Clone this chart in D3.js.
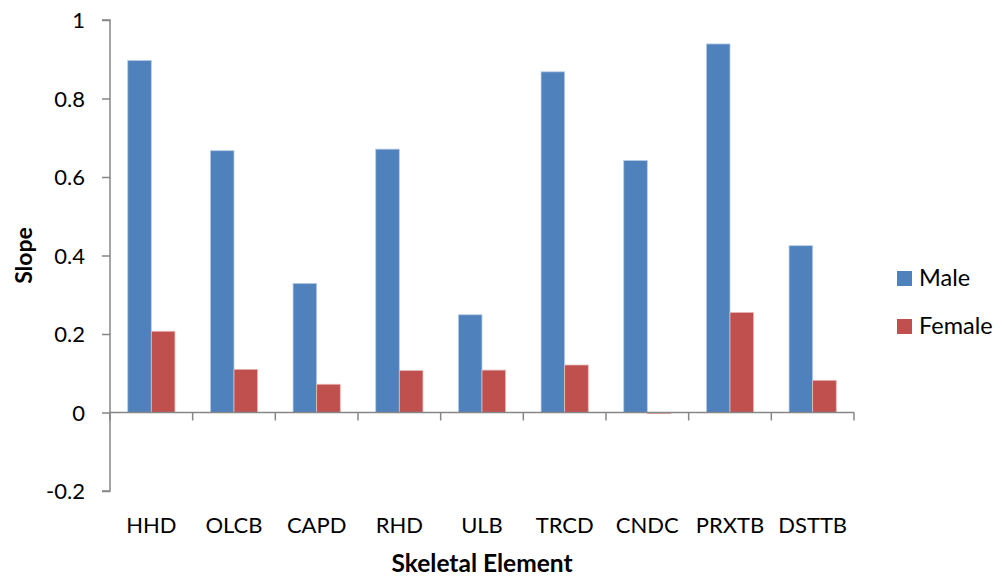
<!DOCTYPE html>
<html>
<head>
<meta charset="utf-8">
<script src="https://cdn.jsdelivr.net/npm/d3@7"></script>
<style>
  html, body { margin: 0; padding: 0; background: #fff; }
  svg { display: block; }
  text { font-family: Lato, "Open Sans", sans-serif; fill: #000; }
</style>
</head>
<body>
<svg id="chart" width="1003" height="578"></svg>
<script>
const categories = ["HHD", "OLCB", "CAPD", "RHD", "ULB", "TRCD", "CNDC", "PRXTB", "DSTTB"];
const maleValues = [0.897, 0.667, 0.329, 0.671, 0.249, 0.868, 0.642, 0.939, 0.425];
const femaleValues = [0.207, 0.110, 0.072, 0.107, 0.108, 0.121, -0.003, 0.255, 0.082];
const seriesNames = ["Male", "Female"];
const seriesColors = ["#4F81BD", "#C0504D"];
const yTicks = [-0.2, 0, 0.2, 0.4, 0.6, 0.8, 1];

(function () {
const svg = d3.select("#chart");
const pLeft = 110, pRight = 854, pTop = 20, pBottom = 491;
const axisColor = "#868686";

const x = d3.scaleBand().domain(categories).range([pLeft, pRight]).paddingInner(0).paddingOuter(0);
const y = d3.scaleLinear().domain([-0.2, 1]).range([pBottom, pTop]);

// Excel-like gap width 150%: bar = bw/3.5
const barW = x.bandwidth() / 3.5;
const groupOffset = (x.bandwidth() - 2 * barW) / 2;

const data = categories.map((c, i) => ({ cat: c, vals: [maleValues[i], femaleValues[i]] }));

// bars
seriesNames.forEach((s, si) => {
  svg.append("g").selectAll("rect")
    .data(data)
    .join("rect")
    .attr("x", d => x(d.cat) + groupOffset + si * barW)
    .attr("width", barW)
    .attr("y", d => y(Math.max(0, d.vals[si])))
    .attr("height", d => Math.abs(y(d.vals[si]) - y(0)))
    .attr("fill", seriesColors[si])
    .attr("stroke", si === 0 ? "#B9CDE5" : "#E6B9B8")
    .attr("stroke-width", 0.8);
});

// y axis
const yAxis = d3.axisLeft(y).tickValues(yTicks).tickSize(8).tickPadding(17)
  .tickFormat(d => String(+d.toFixed(1)));
const gy = svg.append("g").attr("transform", `translate(${pLeft},0)`).call(yAxis);
gy.select(".domain").attr("stroke", axisColor).attr("stroke-width", 1.5).attr("d", `M-8,${pTop}H0V${pBottom}H-8`);
gy.selectAll(".tick line").attr("stroke", axisColor).attr("stroke-width", 1.5);
gy.selectAll(".tick text").style("font-family", "Lato, sans-serif").style("font-size", "22px").attr("fill", "#000").attr("dy", "0.36em");

// x axis at zero
const xAxis = d3.axisBottom(x).tickSize(0).tickFormat("");
const gx = svg.append("g").attr("transform", `translate(0,${y(0)})`).call(xAxis);
gx.select(".domain").attr("stroke", axisColor).attr("stroke-width", 1.5).attr("d", `M${pLeft},0H${pRight}`);
gx.selectAll(".tick").remove();
const boundaries = categories.map(c => x(c)).concat([pRight]);
gx.selectAll("line.bt").data(boundaries).join("line")
  .attr("class", "bt")
  .attr("x1", d => d).attr("x2", d => d)
  .attr("y1", 0).attr("y2", 8)
  .attr("stroke", axisColor).attr("stroke-width", 1.5);

// category labels below plot
svg.append("g").selectAll("text")
  .data(categories)
  .join("text")
  .attr("x", d => x(d) + x.bandwidth() / 2)
  .attr("y", 533)
  .attr("text-anchor", "middle")
  .style("font-size", "22px")
  .text(d => d);

// axis titles
svg.append("text")
  .attr("x", 482).attr("y", 572)
  .attr("text-anchor", "middle")
  .style("font-size", "24.5px").style("font-weight", "bold")
  .text("Skeletal Element");

svg.append("text")
  .attr("transform", `translate(32,${(pTop + pBottom) / 2}) rotate(-90)`)
  .attr("text-anchor", "middle")
  .style("font-size", "23px").style("font-weight", "bold")
  .text("Slope");

// legend
const legend = svg.append("g");
seriesNames.forEach((s, i) => {
  const ly = 271 + i * 48;
  legend.append("rect").attr("x", 897).attr("y", ly).attr("width", 15).attr("height", 15).attr("fill", seriesColors[i]);
  legend.append("text").attr("x", 919).attr("y", ly + 15).style("font-size", "23.5px").text(s);
});
})();
</script>
</body>
</html>
